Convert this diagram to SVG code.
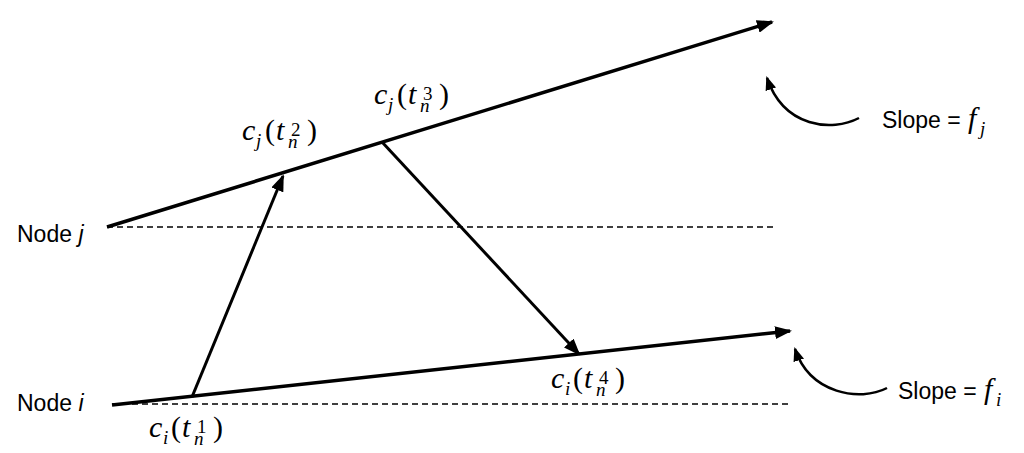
<svg xmlns="http://www.w3.org/2000/svg" width="1024" height="453" viewBox="0 0 1024 453">
<style>
.lbl{font-family:"Liberation Sans","DejaVu Sans",sans-serif;font-size:23px;fill:#000}
.m{font-family:"Liberation Serif","DejaVu Serif",serif;font-size:30px;fill:#000}
.it{font-style:italic}
.s{font-size:19px}
.main{fill:none;stroke:#000;stroke-width:3.5}
.msg{fill:none;stroke:#000;stroke-width:3}
.dash{fill:none;stroke:#000;stroke-width:1.5;stroke-dasharray:6 4}
.curve{fill:none;stroke:#000;stroke-width:2.5}
</style>
<defs>
<marker id="ah" markerUnits="userSpaceOnUse" markerWidth="17" markerHeight="13" refX="15" refY="6.5" orient="auto">
<path d="M0,0 L17,6.5 L0,13 z" fill="#000"/>
</marker>
<marker id="ahs" markerUnits="userSpaceOnUse" markerWidth="14" markerHeight="11" refX="12" refY="5.5" orient="auto">
<path d="M0,0 L14,5.5 L0,11 z" fill="#000"/>
</marker>
</defs>
<rect width="1024" height="453" fill="#fff"/>

<g id="node-j">
<text class="lbl" x="17" y="242">Node <tspan class="it">j</tspan></text>
<line class="dash" x1="107" y1="227" x2="773" y2="227"/>
</g>

<g id="node-i">
<text class="lbl" x="17" y="411">Node <tspan class="it">i</tspan></text>
<line class="dash" x1="112" y1="404" x2="790" y2="404"/>
</g>

<g id="connectors">
<line class="main" x1="107" y1="227" x2="772" y2="22" marker-end="url(#ah)"/>
<line class="main" x1="112" y1="405" x2="790" y2="331" marker-end="url(#ah)"/>
<line class="msg" x1="192" y1="397" x2="283" y2="176" marker-end="url(#ah)"/>
<line class="msg" x1="382" y1="142" x2="579" y2="354" marker-end="url(#ah)"/>
<path class="curve" d="M859,118 C832,132 784,128 767,78" marker-end="url(#ahs)"/>
<path class="curve" d="M887,388 C860,402 810,394 795,349" marker-end="url(#ahs)"/>
</g>

<g id="label-cj2">
<text class="m"><tspan class="it" x="242" y="140">c</tspan><tspan class="it s" x="256" y="147">j</tspan><tspan x="265" y="140">(</tspan><tspan class="it" x="276" y="140">t</tspan><tspan class="s" x="291" y="136">2</tspan><tspan class="it s" x="288" y="148">n</tspan><tspan x="307" y="140">)</tspan></text>
</g>

<g id="label-cj3">
<text class="m"><tspan class="it" x="374" y="104">c</tspan><tspan class="it s" x="388" y="111">j</tspan><tspan x="397" y="104">(</tspan><tspan class="it" x="408" y="104">t</tspan><tspan class="s" x="423" y="100">3</tspan><tspan class="it s" x="420" y="112">n</tspan><tspan x="439" y="104">)</tspan></text>
</g>

<g id="label-ci1">
<text class="m"><tspan class="it" x="149" y="437">c</tspan><tspan class="it s" x="163" y="444">i</tspan><tspan x="171" y="437">(</tspan><tspan class="it" x="182" y="437">t</tspan><tspan class="s" x="197" y="433">1</tspan><tspan class="it s" x="194" y="445">n</tspan><tspan x="213" y="437">)</tspan></text>
</g>

<g id="label-ci4">
<text class="m"><tspan class="it" x="551" y="388">c</tspan><tspan class="it s" x="565" y="395">i</tspan><tspan x="573" y="388">(</tspan><tspan class="it" x="584" y="388">t</tspan><tspan class="s" x="599" y="384">4</tspan><tspan class="it s" x="596" y="396">n</tspan><tspan x="615" y="388">)</tspan></text>
</g>

<g id="slope-j">
<text class="lbl" x="882" y="128">Slope = </text>
<text class="m it" x="968" y="128" font-size="28">f</text>
<text class="m it s" x="980" y="135">j</text>
</g>

<g id="slope-i">
<text class="lbl" x="898" y="399">Slope = </text>
<text class="m it" x="984" y="399" font-size="28">f</text>
<text class="m it s" x="996" y="406">i</text>
</g>
</svg>
